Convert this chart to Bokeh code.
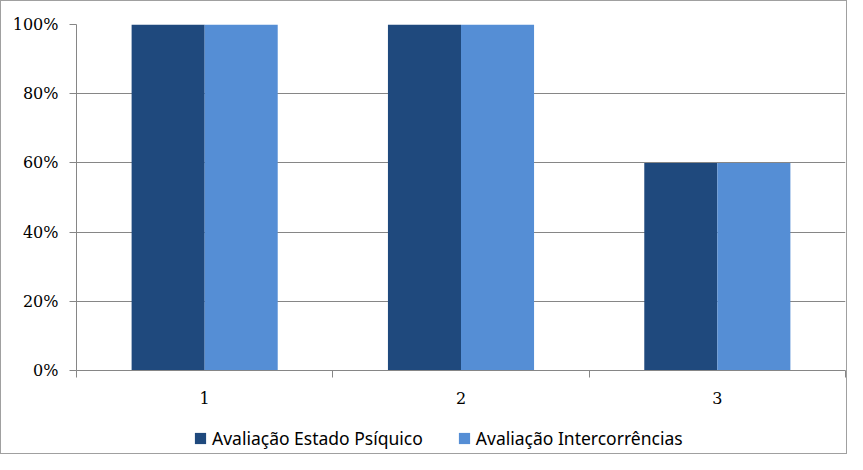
from bokeh.plotting import figure
from bokeh.models import FixedTicker, NumeralTickFormatter, Legend, LegendItem, Range1d
from bokeh.layouts import column
from bokeh.embed import file_html
from bokeh.resources import INLINE

categories = ["1", "2", "3"]
estado_psiquico = [1.00, 1.00, 0.60]
intercorrencias = [1.00, 1.00, 0.60]
series_names = ["Avaliação Estado Psíquico", "Avaliação Intercorrências"]
series_colors = ["#1F497D", "#558ED5"]
y_ticks = [0, 0.2, 0.4, 0.6, 0.8, 1.0]

centers = [i + 0.5 for i in range(len(categories))]
bounds = list(range(len(categories) + 1))
bar_w = 0.285
off = 0.1425

p = figure(width=845, height=420, output_backend="svg", toolbar_location=None,
           x_range=Range1d(0, len(categories)), y_range=Range1d(0, 1),
           min_border_left=75, min_border_right=1, min_border_top=23, min_border_bottom=51)
p.outline_line_color = None
p.background_fill_color = "white"

p.vbar(x=[c - off for c in centers], top=estado_psiquico, width=bar_w, color=series_colors[0], line_color=None)
p.vbar(x=[c + off for c in centers], top=intercorrencias, width=bar_w, color=series_colors[1], line_color=None)

# x axis: labels at category centres, tick marks at category boundaries
xa = p.xaxis[0]
xa.ticker = FixedTicker(ticks=centers, minor_ticks=bounds)
xa.major_label_overrides = {c: lab for c, lab in zip(centers, categories)}
xa.major_tick_out = 0
xa.major_tick_in = 0
xa.minor_tick_out = 7
xa.minor_tick_in = 0
xa.minor_tick_line_color = "#868686"
xa.axis_line_color = "#868686"
xa.major_label_text_font = "DejaVu Serif"
xa.major_label_text_font_size = "16px"
xa.major_label_text_color = "#000000"
xa.major_label_standoff = 14

ya = p.yaxis[0]
ya.ticker = FixedTicker(ticks=y_ticks, minor_ticks=[])
ya.formatter = NumeralTickFormatter(format="0%")
ya.major_tick_out = 7
ya.major_tick_in = 0
ya.major_tick_line_color = "#868686"
ya.axis_line_color = "#868686"
ya.major_label_text_font = "DejaVu Serif"
ya.major_label_text_font_size = "16px"
ya.major_label_text_color = "#000000"
ya.major_label_standoff = 11

p.xgrid.visible = False
p.ygrid.ticker = FixedTicker(ticks=y_ticks)
p.ygrid.grid_line_color = "#868686"

# legend strip below the chart (proxy glyphs lie outside its visible range)
lf = figure(width=845, height=32, output_backend="svg", toolbar_location=None,
            x_range=Range1d(0, 1), y_range=Range1d(0, 1),
            x_axis_location=None, y_axis_location=None, min_border=0)
lf.outline_line_color = None
lf.xgrid.visible = False
lf.ygrid.visible = False
lr1 = lf.vbar(x=[-5], top=[0], width=0.1, color=series_colors[0], line_color=None)
lr2 = lf.vbar(x=[-5], top=[0], width=0.1, color=series_colors[1], line_color=None)
legend = Legend(items=[LegendItem(label=series_names[0], renderers=[lr1]),
                       LegendItem(label=series_names[1], renderers=[lr2])],
                orientation="horizontal", location=(117, 3),
                glyph_width=14, glyph_height=14, label_standoff=5, spacing=34,
                label_text_font="Noto Sans", label_text_font_size="17.5px",
                label_text_color="#000000",
                border_line_color=None, background_fill_alpha=0, padding=0, margin=0)
lf.add_layout(legend, "center")

layout = column(p, lf, spacing=0, styles={"border": "1px solid #a0a0a0"})
open("out.html", "w").write(file_html(layout, INLINE))
